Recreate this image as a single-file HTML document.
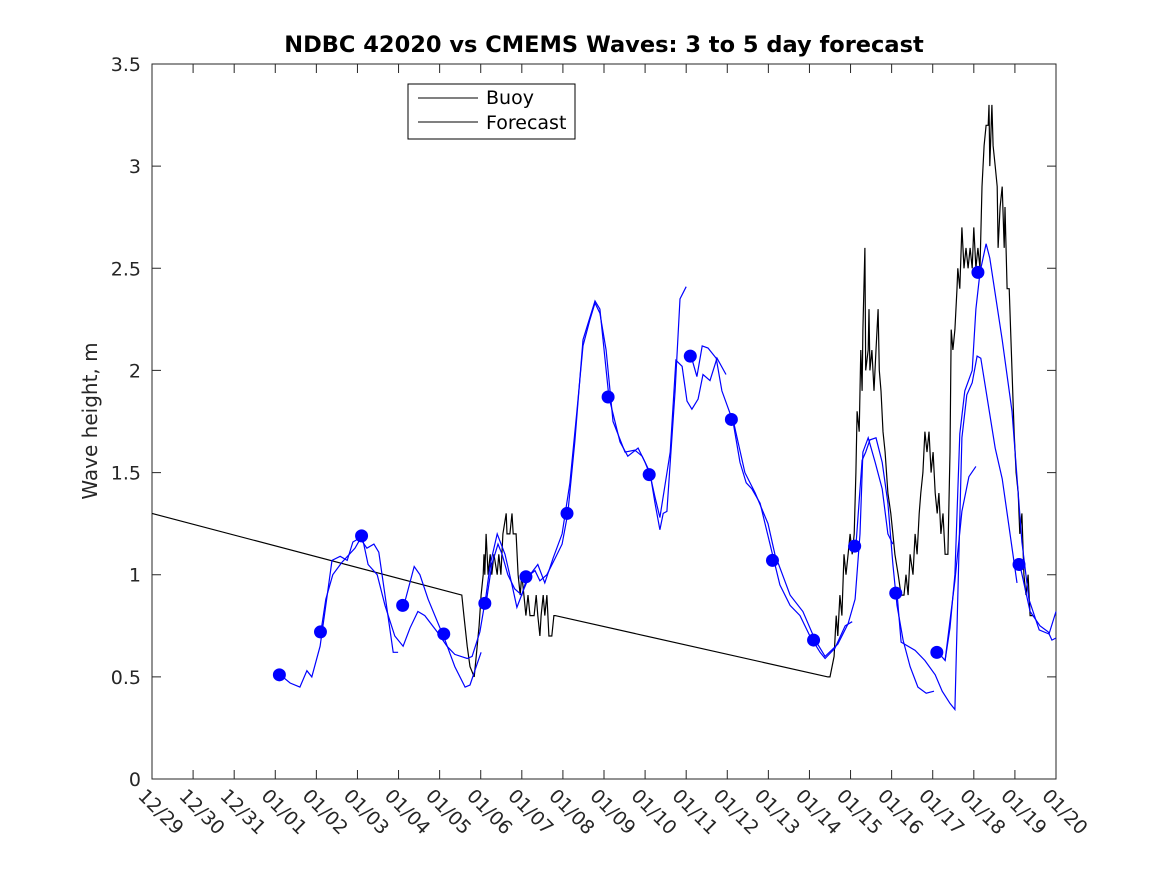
<!DOCTYPE html>
<html><head><meta charset="utf-8"><style>body{margin:0;background:#fff}svg{display:block;font-family:"DejaVu Sans","Liberation Sans",sans-serif}</style></head>
<body>
<svg id="chart" width="1167" height="875" viewBox="0 0 1167 875" xmlns="http://www.w3.org/2000/svg">
<rect x="0" y="0" width="1167" height="875" fill="#fff"/>
<text x="604" y="52" text-anchor="middle" font-size="22.5" font-weight="bold">NDBC 42020 vs CMEMS Waves: 3 to 5 day forecast</text>
<text transform="translate(97,421) rotate(-90)" text-anchor="middle" font-size="20" fill="#262626">Wave height, m</text>
<g id="axes"></g>
<g id="marks"></g>
<g>
<rect x="408" y="84" width="167" height="55" fill="#fff" stroke="#000" stroke-width="1"/>
<line x1="418" y1="98" x2="478" y2="98" stroke="#000"/>
<text x="486" y="104" font-size="19">Buoy</text>
<line x1="418" y1="122" x2="478" y2="122" stroke="#000"/>
<text x="486" y="129" font-size="19">Forecast</text>
</g>
</svg>
<script>
const xTickLabels=["12/29","12/30","12/31","01/01","01/02","01/03","01/04","01/05","01/06","01/07","01/08","01/09","01/10","01/11","01/12","01/13","01/14","01/15","01/16","01/17","01/18","01/19","01/20"];
const yTicks=[0,0.5,1,1.5,2,2.5,3,3.5];
const yTickLabels=["0","0.5","1","1.5","2","2.5","3","3.5"];
const buoyDays=[0,7.54,7.59,7.67,7.74,7.84,7.89,7.96,8.01,8.06,8.08,8.10,8.13,8.18,8.23,8.27,8.32,8.40,8.44,8.49,8.54,8.62,8.64,8.71,8.76,8.79,8.86,8.91,8.96,9.00,9.05,9.10,9.15,9.20,9.30,9.35,9.39,9.44,9.47,9.52,9.56,9.61,9.66,9.73,9.78,9.81,16.45,16.50,16.60,16.65,16.69,16.74,16.79,16.84,16.89,16.94,16.99,17.04,17.09,17.13,17.16,17.21,17.25,17.28,17.30,17.35,17.37,17.43,17.45,17.47,17.52,17.57,17.62,17.67,17.70,17.74,17.79,17.84,17.91,17.98,18.03,18.08,18.16,18.23,18.30,18.35,18.40,18.45,18.52,18.57,18.62,18.67,18.71,18.76,18.81,18.86,18.91,18.96,19.01,19.06,19.11,19.15,19.20,19.25,19.30,19.37,19.42,19.45,19.49,19.54,19.59,19.61,19.66,19.71,19.76,19.81,19.86,19.91,19.96,20.00,20.05,20.10,20.15,20.20,20.25,20.30,20.35,20.37,20.39,20.44,20.47,20.52,20.57,20.59,20.64,20.69,20.74,20.76,20.81,20.86,20.93,20.98,21.03,21.08,21.12,21.17,21.22,21.27,21.32,21.37,21.44];
const buoyValues=[1.3,0.9,0.8,0.65,0.55,0.5,0.6,0.75,0.9,1.0,1.1,1.0,1.2,1.0,1.1,1.0,1.1,1.0,1.1,1.0,1.2,1.3,1.2,1.2,1.3,1.2,1.2,1.0,0.9,1.0,0.9,0.8,0.9,0.8,0.8,0.9,0.8,0.7,0.8,0.9,0.8,0.9,0.7,0.7,0.8,0.8,0.5,0.5,0.6,0.8,0.7,0.9,0.8,1.1,1.0,1.1,1.2,1.1,1.2,1.5,1.8,1.7,2.1,1.9,2.2,2.6,2.0,2.1,2.3,2.0,2.1,1.9,2.1,2.3,2.0,1.9,1.7,1.6,1.4,1.3,1.2,1.1,1.0,0.9,0.9,1.0,0.9,1.1,1.0,1.2,1.1,1.3,1.4,1.5,1.7,1.6,1.7,1.5,1.6,1.4,1.3,1.4,1.2,1.3,1.1,1.1,1.6,2.2,2.1,2.2,2.4,2.5,2.4,2.7,2.5,2.6,2.5,2.6,2.5,2.7,2.5,2.6,2.5,2.9,3.1,3.2,3.2,3.3,3.0,3.3,3.1,3.0,2.9,2.6,2.8,2.9,2.6,2.8,2.4,2.4,2.0,1.7,1.5,1.4,1.2,1.3,1.0,0.9,1.0,0.8,0.8];
const run1Days=[3.12,3.36,3.60,3.77,3.89,4.09,4.23,4.38,4.58,4.75,4.89,5.06,5.23,5.40,5.52,5.67,5.87,5.99];
const run1Values=[.51,.47,.45,.53,.50,.65,.85,1.07,1.09,1.07,1.16,1.18,1.13,1.15,1.11,.9,.62,.62];
const run2Days=[4.11,4.23,4.40,4.62,4.94,5.11,5.26,5.48,5.67,5.91,6.11,6.28,6.47,6.64,6.94,7.18,7.37,7.67,7.79,7.98,8.13,8.23,8.40,8.59,8.76,8.88,9.05,9.20,9.39,9.56,9.76,9.98,10.17,10.34,10.49,10.66,10.78,10.90,11.05,11.22,11.51,11.75,11.93,12.12,12.24,12.36,12.44,12.53,12.73,12.85,13.00];
const run2Values=[.72,.88,1.0,1.06,1.13,1.19,1.05,1.0,.85,.70,.65,.74,.82,.80,.72,.65,.61,.59,.60,.72,.9,1.05,1.2,1.1,.95,.84,.93,1.0,1.05,.96,1.08,1.2,1.45,1.8,2.12,2.25,2.33,2.28,2.1,1.75,1.6,1.61,1.58,1.5,1.35,1.22,1.30,1.31,1.9,2.35,2.41];
const run3Days=[6.13,6.38,6.52,6.72,7.13,7.37,7.62,7.74,7.89,8.01];
const run3Values=[.85,1.04,1.0,.88,.68,.55,.45,.46,.55,.62];
const run4Days=[8.13,8.27,8.42,8.52,8.66,8.83,9.00,9.13,9.32,9.44,9.61,9.81,9.98,10.12,10.29,10.49,10.78,10.90,11.12,11.39,11.58,11.83,12.0,12.12,12.24,12.36,12.61,12.75,12.90,13.02,13.14,13.29,13.41,13.58,13.75,13.97];
const run4Values=[.86,1.05,1.15,1.1,1.0,.93,.9,.99,1.02,.97,1.0,1.08,1.15,1.3,1.65,2.15,2.34,2.3,1.87,1.65,1.58,1.62,1.55,1.49,1.38,1.28,1.6,2.05,2.02,1.85,1.81,1.86,1.98,1.95,2.06,1.98];
const run5Days=[13.12,13.26,13.39,13.53,13.73,13.87,14.14,14.31,14.46,14.60,14.80,15.04,15.28,15.53,15.77,16.01,16.26,16.38,16.62,16.87,17.04];
const run5Values=[2.07,1.97,2.12,2.11,2.06,1.9,1.75,1.55,1.45,1.42,1.35,1.15,.95,.85,.8,.7,.62,.59,.64,.75,.77];
const run6Days=[14.14,14.43,14.68,14.99,15.16,15.53,15.84,16.14,16.38,16.69,16.94,17.11,17.23,17.30,17.43,17.60,17.77,17.91,18.03];
const run6Values=[1.76,1.5,1.4,1.25,1.1,.9,.82,.68,.60,.66,.76,.88,1.2,1.6,1.67,1.55,1.42,1.2,1.15];
const run7Days=[17.13,17.28,17.37,17.47,17.62,17.77,17.91,18.03,18.13,18.28,18.45,18.64,18.84,19.03];
const run7Values=[1.14,1.56,1.60,1.66,1.67,1.55,1.35,1.05,.85,.68,.55,.45,.42,.43];
const run8Days=[18.13,18.23,18.57,18.81,19.06,19.23,19.42,19.54,19.71,19.83,19.96,20.08,20.17,20.52,20.69,21.05];
const run8Values=[.91,.67,.63,.58,.51,.43,.37,.34,1.67,1.88,1.94,2.07,2.06,1.62,1.47,.96];
const run9Days=[19.13,19.30,19.42,19.54,19.66,19.78,19.96,20.05,20.15,20.30,20.39,20.69,20.93,21.17,21.34,21.59,21.83,22.0];
const run9Values=[.62,.58,.74,1.0,1.69,1.9,2.0,2.3,2.48,2.62,2.55,2.15,1.8,1.16,.88,.73,.71,.82];
const run10Days=[19.30,19.54,19.71,19.88,20.05];
const run10Values=[.58,.97,1.31,1.48,1.53];
const run11Days=[21.12,21.37,21.61,21.81,21.90,22.0];
const run11Values=[1.05,.82,.75,.72,.68,.69];
const dotDays=[3.1,4.1,5.1,6.1,7.1,8.1,9.1,10.1,11.1,12.1,13.1,14.1,15.1,16.1,17.1,18.1,19.1,20.1,21.1];
const dotValues=[.51,.72,1.19,.85,.71,.86,.99,1.30,1.87,1.49,2.07,1.76,1.07,.68,1.14,.91,.62,2.48,1.05];

const L=152,R=1056,T=64,B=779,NS="http://www.w3.org/2000/svg";
const xS=d=>L+d*(R-L)/22;
const yS=v=>B-v*(B-T)/3.5;
const axes=document.getElementById('axes'),marks=document.getElementById('marks');
function mk(tag,attrs,parent){const e=document.createElementNS(NS,tag);for(const k in attrs)e.setAttribute(k,attrs[k]);parent.appendChild(e);return e;}
const box=mk('rect',{x:L,y:T,width:R-L,height:B-T,fill:'none',stroke:'#262626','stroke-width':1},axes);


xTickLabels.forEach((lab,i)=>{
  const x=xS(i);
  const t1=mk('path',{d:`M${x},${B}V${B-9}M${x},${T}V${T+9}`,stroke:'#262626'},axes);
  
  
  const t=mk('text',{transform:`translate(${x-15},${B+18}) rotate(45)`,'font-size':19,fill:'#262626'},axes);
  t.textContent=lab;
  
  
});
yTicks.forEach((v,i)=>{
  const y=yS(v);
  const t1=mk('path',{d:`M${L},${y}H${L+9}M${R},${y}H${R-9}`,stroke:'#262626'},axes);
  
  
  const t=mk('text',{x:L-11,y:y+7,'text-anchor':'end','font-size':19,fill:'#262626'},axes);
  t.textContent=yTickLabels[i];
  
  
});
function line(days,vals,color,name){
  const p=mk('polyline',{points:days.map((d,i)=>xS(d).toFixed(1)+','+yS(vals[i]).toFixed(1)).join(' '),fill:'none',stroke:color,'stroke-width':1.2},marks);
  
  
}
line(buoyDays,buoyValues,'#000','buoy-line');
const runs=[[run1Days,run1Values],[run2Days,run2Values],[run3Days,run3Values],[run4Days,run4Values],[run5Days,run5Values],[run6Days,run6Values],[run7Days,run7Values],[run8Days,run8Values],[run9Days,run9Values],[run10Days,run10Values],[run11Days,run11Values]];
runs.forEach((r,i)=>line(r[0],r[1],'#0000ff','forecast-run-'+(i+1)));
dotDays.forEach((d,i)=>{
  const c=mk('ellipse',{cx:xS(d),cy:yS(dotValues[i]),rx:6.5,ry:6.5,fill:'#0000ff'},marks);
  
  
});
</script>
</body></html>
